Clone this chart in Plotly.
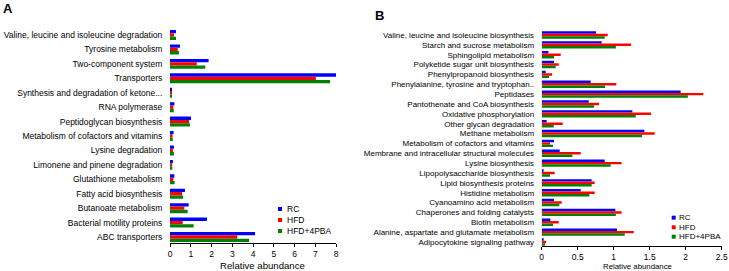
import plotly.graph_objects as go

# ---------------- data ----------------
groups = ["RC", "HFD", "HFD+4PBA"]
colors = ["#0000FF", "#FF0000", "#008000"]

cats_a = [
    "Valine, leucine and isoleucine degradation",
    "Tyrosine metabolism",
    "Two-component system",
    "Transporters",
    "Synthesis and degradation of ketone...",
    "RNA polymerase",
    "Peptidoglycan biosynthesis",
    "Metabolism of cofactors and vitamins",
    "Lysine degradation",
    "Limonene and pinene degradation",
    "Glutathione metabolism",
    "Fatty acid biosynthesis",
    "Butanoate metabolism",
    "Bacterial motility proteins",
    "ABC transporters",
]
a_rc = [0.29, 0.48, 1.86, 8.03, 0.08, 0.21, 1.01, 0.17, 0.19, 0.14, 0.21, 0.72, 0.90, 1.78, 4.10]
a_hfd = [0.19, 0.37, 1.29, 7.03, 0.05, 0.16, 0.92, 0.12, 0.14, 0.10, 0.16, 0.58, 0.69, 0.61, 3.24]
a_pba = [0.29, 0.43, 1.70, 7.71, 0.08, 0.18, 0.96, 0.13, 0.19, 0.11, 0.22, 0.63, 0.85, 1.14, 3.81]

cats_b = [
    "Valine, leucine and isoleucine biosynthesis",
    "Starch and sucrose metabolism",
    "Sphingolipid metabolism",
    "Polyketide sugar unit biosynthesis",
    "Phenylpropanoid biosynthesis",
    "Phenylalanine, tyrosine and tryptophan..",
    "Peptidases",
    "Pantothenate and CoA biosynthesis",
    "Oxidative phosphorylation",
    "Other glycan degradation",
    "Methane metabolism",
    "Metabolism of cofactors and vitamins",
    "Membrane and intracellular structural molecules",
    "Lysine biosynthesis",
    "Lipopolysaccharide biosynthesis",
    "Lipid biosynthesis proteins",
    "Histidine metabolism",
    "Cyanoamino acid metabolism",
    "Chaperones and folding catalysts",
    "Biotin metabolism",
    "Alanine, aspartate and glutamate metabolism",
    "Adipocytokine signaling pathway",
]
b_rc = [0.755, 0.833, 0.093, 0.171, 0.056, 0.68, 1.93, 0.653, 1.259, 0.069, 1.426,
        0.171, 0.25, 0.875, 0.019, 0.694, 0.542, 0.171, 1.023, 0.12, 1.046, 0.014]
b_hfd = [0.917, 1.24, 0.264, 0.236, 0.144, 1.037, 2.245, 0.796, 1.518, 0.292, 1.569,
         0.116, 0.542, 1.11, 0.18, 0.736, 0.736, 0.278, 1.11, 0.236, 1.278, 0.06]
b_pba = [0.875, 1.03, 0.171, 0.194, 0.102, 0.88, 2.03, 0.727, 1.306, 0.167, 1.394,
         0.157, 0.426, 0.958, 0.116, 0.694, 0.662, 0.245, 1.03, 0.157, 1.153, 0.046]

x_ticks_a = [0, 1, 2, 3, 4, 5, 6, 7, 8]
x_ticks_b = [0, 0.5, 1, 1.5, 2, 2.5]
x_tick_text_b = ["0", "0.5", "1", "1.5", "2", "2.5"]
axis_title = "Relative abundance"

# ---------------- figure ----------------
W, H = 729, 271
FONT = "Liberation Sans, Arial, sans-serif"


def px_x(p):
    return p / W


def px_y(p):
    return (H - p) / H


fig = go.Figure()

series_a = [a_rc, a_hfd, a_pba]
series_b = [b_rc, b_hfd, b_pba]
wa, wb = 0.23, 0.25
for i, (g, c) in enumerate(zip(groups, colors)):
    fig.add_trace(go.Bar(
        y=cats_a, x=series_a[i], orientation="h", name=g,
        marker=dict(color=c, line=dict(width=0)),
        width=wa, offset=-1.5 * wa + i * wa,
        xaxis="x", yaxis="y", showlegend=False))
    fig.add_trace(go.Bar(
        y=cats_b, x=series_b[i], orientation="h", name=g,
        marker=dict(color=c, line=dict(width=0)),
        width=wb, offset=-1.5 * wb + i * wb,
        xaxis="x2", yaxis="y2", showlegend=False))

# panel geometry (pixels)
a_left, a_right = 170, 336
a_top_c, a_bot_c, a_axis = 35, 237, 243
b_left, b_right = 541.7, 721.7
b_top_c, b_bot_c, b_axis = 35, 242, 246

sa = (a_bot_c - a_top_c) / (len(cats_a) - 1)
sb = (b_bot_c - b_top_c) / (len(cats_b) - 1)
a_top = a_top_c - 0.5 * sa
b_top = b_top_c - 0.5 * sb

tickfont = dict(family=FONT, size=8.5, color="#000000")

fig.update_layout(
    width=W, height=H,
    margin=dict(l=0, r=0, t=0, b=0),
    paper_bgcolor="white", plot_bgcolor="white",
    barmode="overlay",
    showlegend=False,
    font=dict(family=FONT, color="#000000"),
    xaxis=dict(domain=[px_x(a_left), px_x(a_right)], range=[0, 8],
               tickvals=x_ticks_a, ticks="outside", ticklen=3, tickcolor="black",
               showline=True, linecolor="black", linewidth=1,
               showgrid=False, zeroline=False, tickfont=tickfont,
               anchor="y", automargin=False),
    yaxis=dict(domain=[px_y(a_axis), px_y(a_top)],
               categoryorder="array", categoryarray=cats_a,
               tickmode="array", tickvals=cats_a,
               range=[len(cats_a) - 1 + (a_axis - a_bot_c) / sa, -0.5],
               showline=False, showgrid=False, zeroline=False,
               ticks="outside", ticklen=5, tickcolor="rgba(0,0,0,0)",
               tickfont=dict(family=FONT, size=8.5, color="#000000"),
               anchor="x", automargin=False),
    xaxis2=dict(domain=[px_x(b_left), px_x(b_right)], range=[0, 2.5],
                tickvals=x_ticks_b, ticktext=x_tick_text_b,
                ticks="outside", ticklen=3, tickcolor="black",
                showline=True, linecolor="black", linewidth=1,
                showgrid=False, zeroline=False, tickfont=tickfont,
                anchor="y2", automargin=False),
    yaxis2=dict(domain=[px_y(b_axis), px_y(b_top)],
                categoryorder="array", categoryarray=cats_b,
                tickmode="array", tickvals=cats_b,
                range=[len(cats_b) - 1 + (b_axis - b_bot_c) / sb, -0.5],
                showline=False, showgrid=False, zeroline=False,
                ticks="outside", ticklen=5, tickcolor="rgba(0,0,0,0)",
                tickfont=dict(family=FONT, size=8, color="#000000"),
                anchor="x2", automargin=False),
)

annotations = []
shapes = []

# panel letters
annotations.append(dict(text="<b>A</b>", x=px_x(1), y=px_y(8), xref="paper", yref="paper",
                        xanchor="left", yanchor="middle", showarrow=False,
                        font=dict(family=FONT, size=13, color="black")))
annotations.append(dict(text="<b>B</b>", x=px_x(373), y=px_y(15.5), xref="paper", yref="paper",
                        xanchor="left", yanchor="middle", showarrow=False,
                        font=dict(family=FONT, size=13, color="black")))

# axis titles
annotations.append(dict(text=axis_title, x=px_x(262), y=px_y(265.5), xref="paper", yref="paper",
                        xanchor="center", yanchor="middle", showarrow=False,
                        font=dict(family=FONT, size=9.6, color="black")))
annotations.append(dict(text=axis_title, x=px_x(637), y=px_y(266), xref="paper", yref="paper",
                        xanchor="center", yanchor="middle", showarrow=False,
                        font=dict(family=FONT, size=7.8, color="black")))

# legends (one per panel)
legend_a = dict(x0=278, x1=282, ys=[209, 220, 231], tx=284.5, size=8.5)
legend_b = dict(x0=671.7, x1=675.7, ys=[217.7, 227.3, 236.7], tx=677, size=8)
for lg in (legend_a, legend_b):
    for g, c, yc in zip(groups, colors, lg["ys"]):
        shapes.append(dict(type="rect", xref="paper", yref="paper",
                           x0=px_x(lg["x0"]), x1=px_x(lg["x1"]),
                           y0=px_y(yc + 2), y1=px_y(yc - 2),
                           fillcolor=c, line=dict(width=0)))
        annotations.append(dict(text=g, x=px_x(lg["tx"]), y=px_y(yc), xref="paper", yref="paper",
                                xanchor="left", yanchor="middle", showarrow=False,
                                font=dict(family=FONT, size=lg["size"], color="black")))

fig.update_layout(annotations=annotations, shapes=shapes)

fig.write_html(
    "out.html",
    config={"displayModeBar": False},
    post_script="document.body.style.margin='0';document.body.style.padding='0';",
)
